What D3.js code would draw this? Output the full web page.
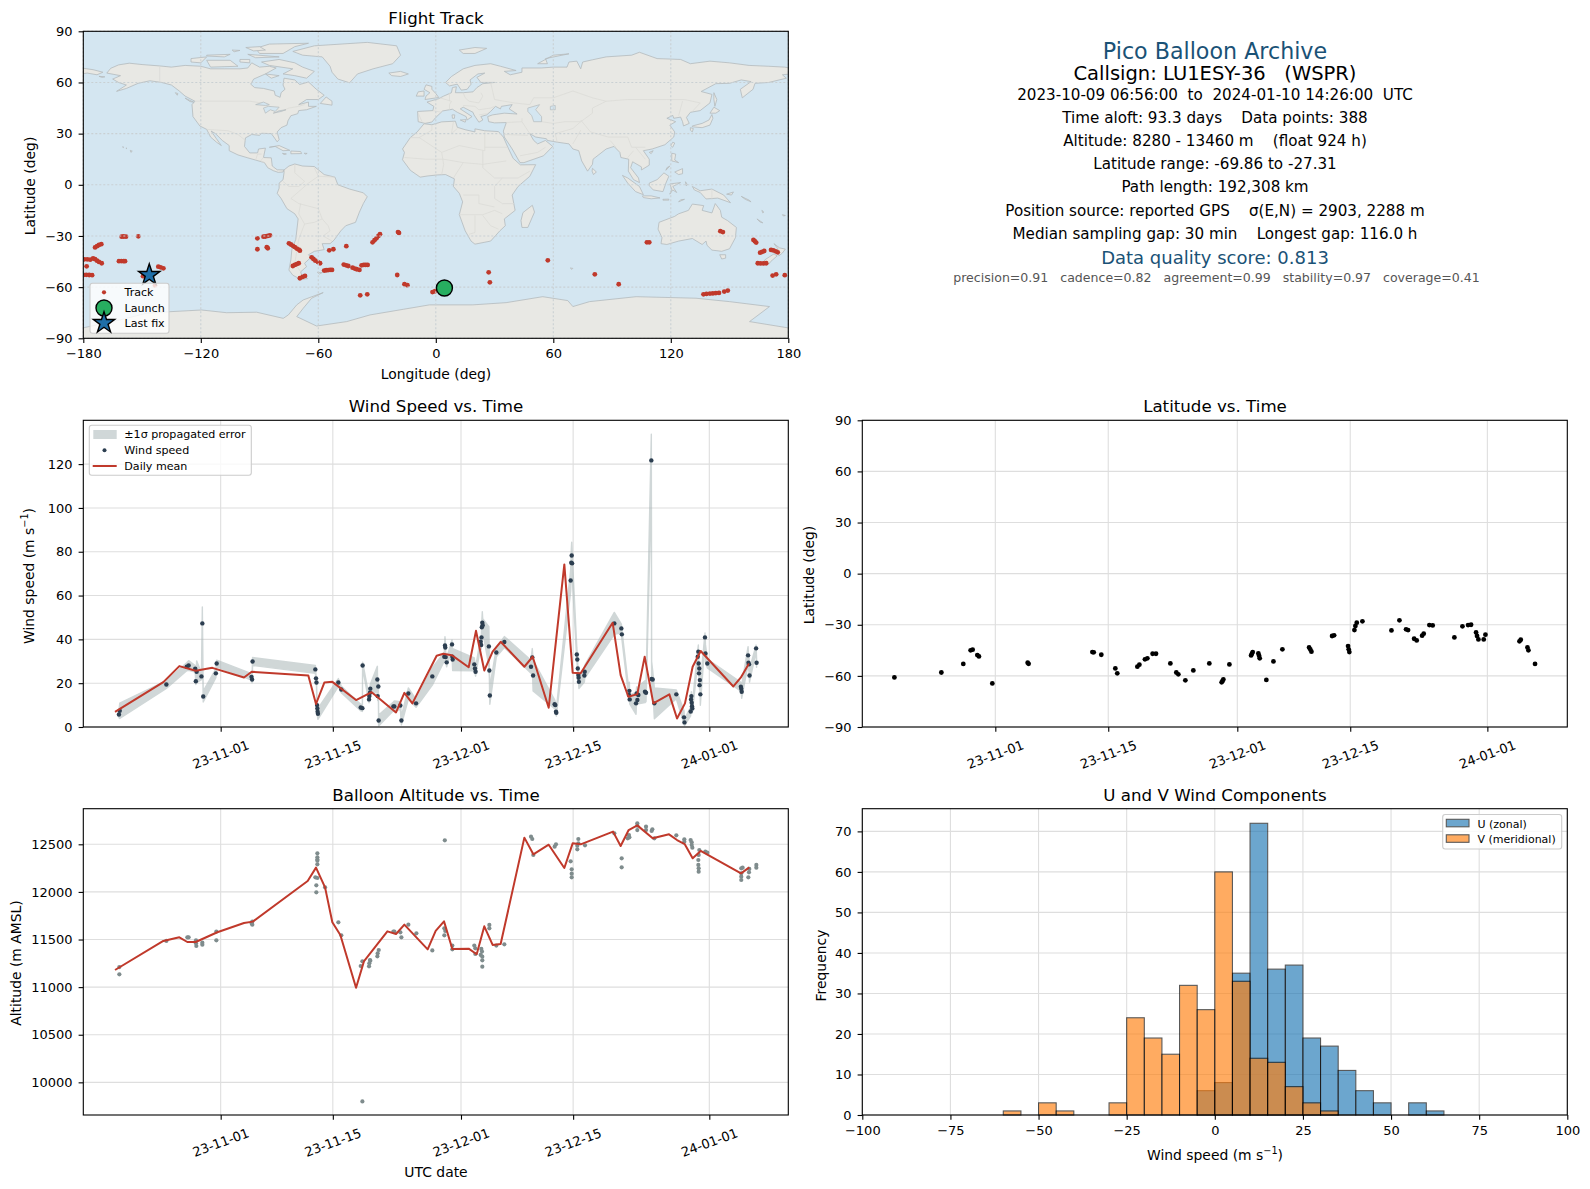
<!DOCTYPE html>
<html>
<head>
<meta charset="utf-8">
<script src="https://cdn.jsdelivr.net/npm/d3@7"></script>
<style>
  body { margin: 0; background: #fff; }
  text { font-family: "DejaVu Sans", sans-serif; fill: #000; white-space: pre; }
</style>
</head>
<body>
<svg id="chart" width="1590" height="1189"></svg>
<script>
// ---- values ----
// days are counted from 2023-11-01 00:00 UTC
var timeTicks = ['2023-11-01', '2023-11-15', '2023-12-01', '2023-12-15', '2024-01-01'];
var lonTicks = [-180, -120, -60, 0, 60, 120, 180];
var latTicks = [-90, -60, -30, 0, 30, 60, 90];
var windTicks = [0, 20, 40, 60, 80, 100, 120];
var altTicks = [10000, 10500, 11000, 11500, 12000, 12500];
var freqTicks = [0, 10, 20, 30, 40, 50, 60, 70];
var histTicks = [-100, -75, -50, -25, 0, 25, 50, 75, 100];

var infoLines = [
  ['2023-10-09 06:56:00  to  2024-01-10 14:26:00  UTC', 95.4],
  ['Time aloft: 93.3 days    Data points: 388', 118.7],
  ['Altitude: 8280 - 13460 m    (float 924 h)', 141.5],
  ['Latitude range: -69.86 to -27.31', 164.5],
  ['Path length: 192,308 km', 187.7],
  ['Position source: reported GPS    σ(E,N) = 2903, 2288 m', 211],
  ['Median sampling gap: 30 min    Longest gap: 116.0 h', 234.4]
];

// lon, lat
var trackPoints = [
  [-179.5,-43.7],[-178,-43.7],[-176.5,-43.9],[-175,-43.2],[-174,-43.6],[-173,-44.5],[-172,-45.2],[-170.6,-46],
  [-178.3,-47.8],[-180,-52.9],[-178.5,-52.8],[-177,-52.9],[-175.5,-53],[-174,-36.7],[-173,-36],[-172,-35.3],[-170.8,-34.8],
  [-160.4,-30.4],[-159.4,-30.3],[-158.2,-30.4],[-151.9,-30.2],[-161.8,-44.8],[-160.6,-44.7],[-159.5,-44.8],[-158.7,-44.8],
  [-149.5,-53.6],[-148,-54.3],[-143.4,-59],[-141.7,-48],[-140.5,-48.4],[-139.1,-49],
  [-91.1,-31.4],[-88,-30.4],[-87,-30.3],[-85.8,-30],[-84.7,-29.6],[-91.1,-37.8],[-86.3,-36.6],[-85.8,-37.2],
  [-75,-34.3],[-74,-35],[-73,-35.8],[-72,-36.5],[-71,-37.4],[-70,-38],[-69.4,-38.6],
  [-73,-47.6],[-72,-47],[-71,-46.5],[-70,-46],[-69.4,-54.8],[-68,-54],[-66.8,-53.4],
  [-63.4,-42.5],[-62.5,-43.5],[-61.5,-44.5],[-60.2,-45.3],[-59.1,-46],[-54.4,-38.4],[-52.3,-37.8],[-45.7,-36],
  [-57,-50.3],[-56,-50.1],[-55,-50],[-54,-49.9],[-53,-49.9],[-47,-46.8],[-45.8,-47.2],[-44.7,-47.6],[-42.5,-48.6],[-41.4,-49.1],[-40.4,-49.5],[-39,-49.9],
  [-37.9,-47.2],[-36.8,-47],[-35.8,-47],[-34.8,-47],[-32.3,-33.7],[-31.3,-32.5],[-30.3,-31.4],[-29.3,-30],[-28.5,-29],
  [-19.3,-27.7],[-18.8,-28.2],[-19.7,-52.9],[-16,-58.3],[-14.5,-58.9],[-38.6,-64.8],[-35,-64.2],
  [-1.7,-62.9],[-0.4,-62.4],[27,-51.3],[27.6,-57.2],[57.2,-44.3],[81.2,-52.5],[93.4,-58.3],[107.8,-33.7],[109,-33.7],
  [136.7,-64.2],[138.2,-64],[140,-63.8],[141.5,-63.7],[143,-63.5],[144.6,-63.4],[147.3,-62.6],[149.1,-62],
  [145.3,-27.2],[146.6,-27.7],[162.2,-32.3],[162.9,-33.1],[163.6,-33.9],[165.6,-39.8],[166.6,-39.3],[167.7,-38.8],
  [171.2,-38.2],[172.4,-38.5],[173.6,-39],[174.6,-39.6],[164.4,-46],[165.8,-46.1],[167.3,-46.1],[168.7,-46],
  [172,-53.2],[173.8,-52.5],[178.2,-53]
];
var launchPoint = [4.4, -60.5];
var lastFixPoint = [-146.3, -52.9];

// hand traced outlines, lon/lat
var landShapes = [
  // north america
  [[-168,65.5],[-166,68.3],[-162,70.3],[-156.5,71.3],[-150,70.5],[-141,69.7],[-135,69],[-128,70],[-120,69.5],[-115,68],[-108,68],[-100,68],[-96,68.5],[-94,71.5],[-90,69],[-85,69.5],[-81.5,68.5],[-87,65],[-93,62],[-94.5,59],[-92.5,57],[-88,56.5],[-82.5,55],[-82,52.5],[-79.5,51.3],[-79,54],[-77,56],[-78,58.5],[-77.5,62.5],[-72,61.5],[-69.5,58.8],[-65,60.3],[-61,56],[-57,52.5],[-60,50],[-66,50],[-70,47],[-65,48.5],[-65,46],[-61,46],[-66,44],[-70,43.5],[-70.5,41.7],[-74,40.5],[-75.5,37.5],[-76,35],[-79,33.5],[-81,31],[-80,26.5],[-81,25.2],[-82.7,28],[-84,30],[-89,30.2],[-90,29],[-94,29.5],[-97.2,27.5],[-97.7,22.5],[-95,18.7],[-91,18.7],[-90.5,21],[-87,21.5],[-88,16],[-84,15.8],[-83.5,11],[-81,8.8],[-77.5,8.7],[-78,7.5],[-80.5,7.3],[-83,8.3],[-85.8,10],[-87.5,13],[-92,14.5],[-96,15.8],[-101,17.5],[-105.5,20],[-105.5,23],[-109,26],[-112.5,30],[-114.7,31.5],[-112,27],[-109.5,23],[-112,25],[-115,28],[-117,32.5],[-120.5,34.5],[-124,40],[-124.5,47],[-123,49],[-128,52],[-131,55],[-135,58.5],[-140,60],[-146,61],[-152,59.5],[-158,56.5],[-163,54.8],[-158,58.5],[-162,60],[-165,62],[-161,64]],
  // south america
  [[-77.5,8.7],[-75,11],[-72,12.2],[-68,11],[-62,10.7],[-57,6],[-51.5,4.5],[-50,0],[-44,-2.5],[-37,-4.7],[-35,-7],[-37,-11],[-39,-16],[-41,-22],[-46,-24],[-48.5,-27],[-52,-32.5],[-54,-34.5],[-58,-34.5],[-57,-38],[-62,-39],[-65,-41],[-63.7,-42.5],[-67,-46],[-66,-48],[-69,-51],[-68.5,-53],[-65.5,-55],[-69,-55.5],[-73,-53],[-75,-50],[-74,-44],[-73.5,-38],[-71.5,-32],[-70.3,-20],[-72,-17],[-76,-14],[-79,-8],[-81,-5],[-80,-2],[-80,1],[-78,3],[-77.5,7]],
  // africa
  [[-6,35.8],[-2,35.2],[3,36.9],[10,37.3],[11,33.7],[15,32.3],[20,31],[20,32.8],[25,31.7],[32,31.2],[34.5,28],[37,21.5],[39.5,15.5],[43.2,11.7],[51,11.8],[48,5],[42,-1],[39,-6],[40.5,-15],[35,-20],[35.5,-24],[32.7,-27],[28,-33],[20,-34.8],[18,-33],[15,-27],[12,-17.5],[13.7,-10],[12,-5],[9,-1],[9.5,3.5],[5,6],[1,5.8],[-4,5.2],[-8,4.5],[-13,8.5],[-17,14.7],[-16,19],[-17,21],[-13,27.7],[-9.5,31]],
  // eurasia
  [[-9,37],[-9.3,43],[-1.5,43.5],[-1,46],[-4.5,48.5],[1.5,50.5],[4,52],[8,54],[8.5,57],[10.5,57.5],[10,54],[14,54],[19,54.5],[21,57],[24,59.3],[30,60],[23,60],[21,63],[25,65.5],[21.5,65],[17.5,61.5],[18,59],[16,56],[13,55.5],[11,59],[7,58],[5,60],[8,63.5],[14,68],[20,70],[28,71],[33,69.5],[41,67],[35,66.5],[38,64.5],[44,66],[44,68.5],[54,68.5],[60,69],[67,69],[68,72],[72,72.5],[74,68],[75,72],[80,73.3],[87,75],[100,76],[104,77.7],[113,74],[125,73.5],[130,71],[140,72.5],[150,71.5],[160,70],[170,69.5],[178,69],[181,68.5],[181,65],[177,64.5],[179,62.5],[170,60],[163,59.5],[162,56],[156.5,51],[155.5,56],[161,60.5],[156,61.5],[150,59.5],[143,59.3],[135.5,54.7],[141,53],[140,48],[135,43.5],[130,42.5],[128,39.5],[129.4,36],[126.5,34.5],[126,37],[125,39.7],[121.5,39],[121,40.7],[118,39],[122.5,37],[119.5,35],[122,31],[121.5,28],[117,23.5],[110.5,21],[106,20],[109,15],[109,11.5],[105,8.7],[105,10.5],[100.5,13.5],[99.5,10],[103.5,4],[104,1.3],[101,3],[98.3,8],[98.5,15],[94.5,16],[94,19],[91,22.5],[87,21],[80.3,15],[80,12],[77.5,8],[74.5,14],[73,20],[70,21],[68,24],[62,25],[57,26],[56.5,27],[51,28],[48,30],[50,26],[52,24],[56,26],[59.7,22.5],[55,17],[45,13],[43,13],[39,21],[35,28],[34.5,31.5],[36,36.5],[30,36.3],[27,37],[26.5,40],[29,41],[35,42],[41.5,41.5],[37.5,44.5],[39,47],[33.5,46],[33,44.5],[30.5,46],[28,43],[26,41],[23,40],[24,38],[22,36.7],[19.5,41],[19,42.5],[14,45.5],[12.5,44.5],[18.5,40],[16,38],[15.5,40],[11,42.5],[8.5,44.3],[3.5,43.3],[0,39.5],[-2,36.8],[-5.5,36]],
  [[-181,68.5],[-175,67.5],[-170,66],[-173,64.5],[-178,65.5],[-181,65]],
  // antarctica
  [[-181,-84.1],[-161.3,-79.2],[-147.7,-75.3],[-135.7,-74.4],[-119.6,-73.4],[-106.8,-75],[-91.5,-74.7],[-77.9,-78.3],[-75.3,-76.3],[-71,-70.4],[-67.7,-67.5],[-57.5,-63.2],[-63.4,-66.5],[-67.7,-72.4],[-71,-77.3],[-60.9,-82.8],[-45.5,-80.2],[-33.6,-76.3],[-16.6,-73],[-3.2,-70.4],[18.9,-70.4],[35.9,-69.1],[54.6,-65.6],[67.4,-67.9],[70,-71.4],[78.5,-68.5],[102.3,-65.6],[132.9,-66.5],[150,-68.5],[170.4,-71.4],[160.2,-80.2],[181,-84.1],[181,-91],[-181,-91]],
  // greenland and arctic islands
  [[-44,59.8],[-50,62],[-53,66],[-54,69.5],[-58,75],[-68,76],[-73,78.2],[-62,81.5],[-35,83.5],[-20,81.5],[-18,76],[-22,71],[-32,68],[-40,65]],
  [[-80,73.5],[-72,71.5],[-68,69],[-62,66.5],[-66,62.5],[-72,64],[-78,65],[-73,68],[-85,70],[-89,72]],
  [[-117,73],[-105,73],[-101,69.5],[-115,69]],
  [[-90,77],[-78,77],[-72,81],[-65,83],[-85,82.5],[-92,80]],
  [[-125,74],[-117,75],[-120,71.5],[-125,72]],
  [[-96,76.5],[-80,75],[-92,74.5]],
  [[-117,76],[-105,76.5],[-108,75],[-117,75.5]],
  [[-100,73.5],[-95,73.5],[-95,71.5],[-100,72]],
  [[-97,80.5],[-90,81],[-87,79],[-93,78.5]],
  [[-104,79],[-100,78.8],[-103,78]],
  [[-87,65],[-80,64],[-84,62.5]],
  [[-59,47.7],[-53,46.7],[-53,49],[-56,51.5]],
  // caribbean
  [[-85,22],[-80,23],[-74.5,20.2],[-78,20],[-82,22.5]],
  [[-74,19.8],[-69,19.5],[-68.5,18.3],[-74,18.2]],
  [[-78.3,18.4],[-76.3,18.1],[-77.5,17.8]],
  [[-67.2,18.5],[-65.7,18.4],[-66.5,18]],
  // europe islands
  [[-24,65.5],[-18,66.5],[-14,65],[-18,63.5],[-22.5,64]],
  [[-5.5,50],[1.5,51.2],[0,53.5],[-2,56],[-2,57.7],[-5,58.6],[-6,56],[-3,54],[-5,52]],
  [[-10,52],[-6,52],[-6,55],[-9,54.5]],
  [[12,79],[20,80.5],[26,80],[20,77],[14,77]],
  [[52,71],[57,71],[56,74],[68,76.8],[60,76]],
  [[8.3,41],[9.7,41],[9.5,39],[8.5,39]],
  [[12.5,38],[15.5,38.2],[15,36.7]],
  // asia islands
  [[142,54],[143.5,50],[142.5,46],[142,50]],
  [[131,34],[136,33.5],[140,35],[141.5,39],[141,41.2],[139.5,38],[136,36],[131,34.5]],
  [[140,42],[142,45.5],[145,43.5],[143,42]],
  [[130,33.5],[131.5,33],[131,31],[130,32]],
  [[121,25],[122,24.5],[121,22],[120,23]],
  [[109,19],[111,20],[110,18.3]],
  [[120.5,18.5],[122.5,18],[122,14.5],[124,13],[120.5,14]],
  [[122,7.5],[126,9.5],[126,6.5],[124,6]],
  [[118,10],[119.5,11],[117.5,8.5]],
  [[109,1],[113,3],[116.5,7],[119,5],[117.5,1],[116,-4],[111,-3],[109,-0.5]],
  [[95.3,5.5],[98,4],[104,-1],[106,-5.8],[102,-4],[98,1]],
  [[105.5,-6.5],[110,-6.5],[114.5,-7.7],[110,-8.2],[106,-7.5]],
  [[119.5,-5.5],[120.5,-2.5],[119.5,0.5],[125,1.3],[121,-1],[123,-4.5],[121,-3]],
  [[127.5,1.8],[128.5,0],[127.8,-0.5]],
  [[124,-10],[127,-8.5],[125,-8.8]],
  [[116,-8.5],[119,-8.4],[119,-9],[116,-9]],
  [[80,9.7],[82,7.5],[80.5,6],[79.8,8]],
  // oceania
  [[131,-1],[135,-3.5],[141,-2.5],[147,-6],[150.5,-10.5],[144,-7.8],[138,-8.3],[135,-4.5],[132,-3]],
  [[148.5,-5.5],[152,-4.2],[151,-6]],
  [[156,-6.8],[160,-9],[161,-10],[158,-8.5]],
  [[166.5,-15],[167.5,-16],[167,-16.5]],
  [[164,-20],[167,-22.3],[165.5,-21.8]],
  [[114,-22],[113.5,-26],[115.5,-31],[115,-34.5],[118,-35],[124,-33],[131,-31.5],[136,-35],[138,-33],[138.5,-35.5],[141,-38.3],[146,-39],[150,-37.5],[153,-31],[153.5,-25],[149,-21],[146,-19],[145.3,-15],[142.7,-11],[141,-16.5],[136,-15],[136.8,-12.2],[131,-11.3],[129,-15],[124,-17],[122,-18.5]],
  [[145,-41],[148,-41],[148,-43],[146,-43.5]],
  [[172.7,-34.5],[175.5,-37],[178.5,-37.7],[177,-40],[175.2,-41.6],[174.8,-39.5],[174.7,-37.5]],
  [[172.7,-40.5],[174.3,-41.7],[171,-45],[170,-46.5],[167,-46.3],[168,-44],[172,-41]],
  [[177,-17.5],[178.5,-18],[177.5,-18.3]],
  // small ones
  [[49.3,-12],[50.4,-16],[47,-25],[44,-25],[43.5,-21],[44.5,-16.3]],
  [[68.7,-48.8],[70,-49],[69.5,-49.6]],
  [[-60.5,-51.3],[-58,-51.5],[-59.5,-52.3]],
  [[-156,20.2],[-155,19.7],[-155.7,19]],
  [[-158.2,21.6],[-157.7,21.4],[-158,21.2]],
  [[-160,22.2],[-159.3,22.1],[-159.6,21.8]],
  [[-133,54],[-131.7,53.5],[-132,52.5]],
  [[-128,50.8],[-123.5,48.4],[-125.5,48.8]],
  [[-172,63.6],[-169,63.3],[-170.5,63]]
];
var waterShapes = [
  [[47,45],[53,47],[51,44],[54,40],[54,37],[50,37],[49,40.5],[47,43]],
  [[58.5,46],[61,46.5],[61,44],[58.5,44]],
  [[-92,47],[-88,48.5],[-85,47],[-87,46.5]],
  [[-88,45],[-85.5,46],[-80,45.5],[-82,43],[-84.5,44],[-87,42]],
  [[-83,42],[-79,43],[-76.5,44],[-79.5,43.5]]
];
var borderLines = [
  [[-141,69.7],[-141,60]],[[-123,49],[-95,49],[-89,48],[-83,45],[-79,43],[-75,45],[-70,46],[-67,47]],
  [[-117,32.5],[-106,31.7],[-101,29.5],[-97.2,26]],[[-92,14.5],[-91,18],[-89,18]],[[-88,16],[-89.5,14],[-87.5,13]],
  [[-51.5,4.5],[-60,5],[-65,1],[-70,-4],[-74,-8],[-70,-11],[-60,-14],[-58,-20],[-55,-24],[-54,-27],[-57.5,-30],[-53,-33]],
  [[-70,-17],[-67,-23],[-70,-32],[-72,-46],[-69,-51]],[[-72,12],[-72,7],[-67,2],[-70,-1],[-75,-1],[-78,2]],[[-62,10],[-60,5]],[[-69,-11],[-70,-17]],[[-58,-20],[-62,-22],[-67,-23]],
  [[-9,42],[-7,37]],[[-1.5,43.5],[3,42.5]],[[2,51],[8,49],[7,47],[7,44]],[[7,54],[7,49]],[[14,54],[15,51],[17,49],[22,48],[24,52],[23,54]],[[14,46.5],[20,46],[22,44],[28,45],[30,46]],[[22,41],[26,41.7]],
  [[28,60],[30,50],[40,48],[48,47],[50,51],[60,51],[70,55],[80,51],[87,49],[98,50],[108,50],[118,50],[127,50],[135,48],[131,43]],
  [[54,37],[60,36],[66,37],[74,37],[80,42],[80,45],[87,49]],[[74,38],[79,31],[88,28],[98,28],[100,22],[107,22]],[[62,25],[61,30],[70,33],[74,37]],[[70,24],[74,32]],
  [[44,39],[44,37],[48,30]],[[36,36.5],[44,37]],[[35,29.5],[47,29]],[[43,17],[52,19],[56,22]],[[89,26],[92,22]],[[98,16],[101,20]],[[102,22],[107,15]],
  [[-8.5,27.7],[-2,32],[-2,35]],[[-13,27.7],[-8.5,27.7],[3,19],[12,23],[25,20],[25,31.7]],[[9,37],[8,30],[11,33]],[[25,22],[37,22]],[[3,19],[4,12],[3,6]],[[-16,16],[-5,15],[4,15],[14,13],[24,12],[36,14]],
  [[14,13],[9,4]],[[24,20],[24,10],[30,4],[34,4],[42,4],[48,8]],[[34,4],[30,-1],[30,-8],[34,-11],[40,-11]],[[14,-6],[22,-6],[22,-11],[30,-13]],[[12,-17.5],[24,-17.5],[30,-15],[34,-17]],[[20,-18],[20,-28],[17,-29]],[[24,-18],[28,-24],[32,-26]],
  [[126,49],[124,40.5]],[[141,-2.5],[141,-9]]
];

// [day, wind speed, propagated sigma], in time order
var windPoints = [
  [-12.7,5.7,1.5],[-12.6,7.4,3.5],[-6.78,19.4,1.8],[-4.24,27.5,1.8],[-4.0,28.1,2.2],[-3.18,26.6,1.5],[-3.1,20.9,1.5],[-3.0,25.2,5],
  [-2.4,23.1,1.5],[-2.29,47.3,7.5],[-2.18,13.9,2.5],[-0.6,24.5,2],[-0.5,29,1.5],[3.85,22.9,1.5],[3.92,21.7,1.5],[3.98,29.9,1.8],
  [11.82,26.3,1.8],[11.9,22.2,1.5],[11.96,20.3,1.5],[12.03,10,2],[12.07,8.5,2],[12.1,7,2.5],[12.14,6,2.5],[14.69,20.3,1.8],[15.06,17.1,1.5],
  [17.48,8.9,1.5],[17.69,8.6,1.5],[17.72,28.1,1.5],[18.52,12.6,1.5],[18.56,14.1,2],[18.64,15.6,2],[18.68,17.5,2],[19.56,21.7,6],[19.6,14.1,2],[19.68,18.5,3],
  [19.72,3,2.5],[21.56,9.4,2],[21.68,9.4,2.5],[22.43,9.8,1.8],[22.56,3,2],[23.43,15.3,2.5],[24.39,10.8,1.8],
  [26.42,23.1,4],[27.92,32.1,2],[28,37.2,4],[28.04,36.3,3],[28.09,31.9,2],[28.21,29.5,2],[28.88,37.7,2],[28.92,32.1,3],[28.96,30.8,5],
  [31.66,28.6,3],[31.75,26.7,2],[31.82,25.2,2],[32.46,38.9,2],[32.52,37.4,2],[32.56,40.9,3],[32.6,45.5,3],[32.66,47.6,5],[32.71,46.5,3],
  [33.48,36.8,9],[33.54,25.8,3],[33.6,14.4,4],[34.41,34,2],[35.41,38.8,2.5],[38.74,27.5,3],[38.9,31.8,4],[39,23.5,7],
  [41.69,10.4,2],[41.78,10,1.5],[41.86,7,1.5],[41.9,6.5,1.5],[43.69,66.9,5],[43.77,75,6],[43.82,78.3,6],[43.87,74.7,5],
  [44.46,33.1,3],[44.52,30.8,3],[44.58,26.7,2],[44.65,23.7,3],[44.68,22.5,2],[44.72,20.6,3],[45.4,23.5,3],[45.44,25.2,3],
  [49.14,47.3,5],[50.02,45,2],[50.08,42.3,2],[50.97,14.6,2],[51.02,16.5,4],[51.06,12.6,2],[51.85,10.8,5],[51.93,15.3,3],[52.02,12.3,2],[52.14,14.6,4],
  [52.97,16.1,5],[53.1,15.6,4],[53.76,121.7,12],[53.8,21.9,8],[53.93,21.7,4],[54.14,10.8,7],[56.88,14.9,2],[57.84,4.4,3],[57.9,2.1,1.5],
  [58.67,7.1,2],[58.72,12.6,2],[58.76,14.1,2],[58.8,11.1,2],[58.84,9.5,2],[58.88,8.5,2],[59.55,32.1,3],[59.63,34.4,3],[59.67,29,3],[59.71,24.5,3],[59.75,26.7,2],[59.78,19.1,2],[59.82,21.4,2],[59.88,14.9,5],
  [60.46,40.9,2],[60.52,33.6,4],[60.75,29,2],[64.94,18.4,2],[64.99,17.5,2],[65.04,16.1,3],[65.84,32.7,4],[65.89,29.3,3],[65.96,28.6,3],[66.02,23.5,3],[66.84,35.9,1.5],[66.9,29.3,2]
];
var windDaily = [
  [-13.19,6.95],[-7.16,20.5],[-5.16,27.8],[-3.12,25.7],[-1.04,27],[2.91,22.6],[3.87,25.2],[10.94,23.5],[11.9,10.5],[12.94,20.3],[13.94,20.6],
  [16.9,12.3],[18.85,15.9],[21.89,6.65],[22.93,15.6],[23.93,10.8],[26.96,32.5],[27.8,33.4],[28.84,32.8],[30.96,27.3],[31.87,43.9],[32.91,25.8],
  [33.95,34.4],[34.95,38.9],[37.91,27.5],[38.95,32.1],[40.95,8.8],[42.9,74.2],[43.94,24.8],[44.94,24.5],[48.93,47.6],[49.93,23.7],[50.89,13.8],
  [52.01,15],[52.93,32.1],[54.01,10.8],[56.01,14.9],[56.97,3.9],[57.96,10.8],[58.92,27.5],[59.92,34.7],[64,18.5],[64.92,22.5],[65.95,29]
];

var latPoints = [
  [-12.51,-60.9],[-6.69,-58],[-3.97,-53],[-3.06,-45],[-2.81,-44.6],[-2.23,-47.8],[-2.03,-48.6],[-0.37,-64.4],[4.01,-52.3],[4.13,-52.9],
  [12.03,-46],[12.2,-46.2],[13.14,-47.6],[14.88,-55.6],[15.12,-58.5],[17.61,-54.6],[17.86,-53.4],[18.55,-50.3],[18.85,-49.7],[19.5,-47],[19.92,-47],
  [21.7,-52.7],[22.44,-58],[22.69,-59.1],[23.56,-62.6],[24.55,-56.8],[26.53,-52.7],[28.06,-63.8],[28.17,-63],[28.27,-62.1],[29.02,-53.3],
  [31.71,-48],[31.81,-47],[31.91,-46],[32.61,-46.8],[32.7,-48.2],[32.78,-49.7],[33.6,-62.4],[34.48,-51.5],[35.59,-44.4],[38.9,-43.3],[39.05,-44.5],[39.19,-45.8],
  [41.75,-36.6],[42,-36.2],[43.73,-42.5],[43.81,-44.4],[43.89,-46],[44.52,-33.1],[44.64,-30.7],[44.81,-28.8],[45.51,-28],[49.11,-33.3],[50.1,-27.4],
  [50.92,-32.7],[51.17,-33.1],[51.92,-38.2],[52.24,-39.2],[52.91,-36.4],[53.11,-35.2],[53.81,-30.2],[54.22,-30.4],[56.91,-37.4],[57.91,-30.9],[58.61,-30.2],[58.98,-30],
  [59.6,-34.5],[59.72,-36.6],[59.89,-38.6],[60.55,-38.6],[60.76,-35.8],[64.98,-39.7],[65.14,-38.8],[65.97,-43.3],[66.09,-45],[66.91,-53]
];

var altPoints = [
  [-12.65,11211],[-12.65,11134],[-6.78,11485],[-4.16,11523],[-4,11523],[-3.08,11492],[-3.08,11460],[-3.04,11432],[-2.29,11467],[-2.29,11446],[-0.54,11583],[-0.54,11492],
  [3.95,11688],[3.87,11667],[3.95,11656],[12.07,12405],[12.07,12363],[12.07,12340],[12.07,12328],[12.07,12290],[11.82,12153],[12.07,12146],[11.94,12069],[11.94,11996],[13.03,12048],
  [14.69,11681],[15.06,11544],[17.48,11222],[17.69,11271],[17.69,9800],[18.52,11218],[18.56,11250],[18.64,11285],[18.68,11278],[19.56,11324],[19.6,11355],[19.73,11390],
  [21.56,11583],[21.68,11583],[22.43,11576],[22.56,11523],[23.43,11656],[24.43,11565],[26.42,11386],[27.98,12542],[27.92,11618],[28.04,11590],[27.92,11544],[28.92,11436],[28.92,11397],
  [31.66,11436],[31.79,11408],[31.79,11348],[32.54,11401],[32.62,11373],[32.46,11338],[32.66,11320],[32.66,11281],[32.66,11215],[33.54,11653],[33.54,11618],[34.41,11436],[35.41,11450],
  [38.74,12580],[38.9,12556],[39.03,12388],[41.69,12475],[41.86,12500],[43.69,12321],[43.82,12237],[43.82,12192],[43.82,12153],[44.65,12556],[44.65,12510],[44.52,12486],[44.52,12447],[45.48,12489],
  [49.14,12615],[50.06,12353],[50.06,12258],[50.97,12598],[51.02,12573],[50.81,12563],[52.01,12720],[52.01,12696],[52.01,12650],[53.1,12685],[53.1,12650],[53.89,12657],[53.8,12640],[54.14,12563],
  [56.88,12594],[57.88,12552],[57.88,12528],[58.67,12545],[58.8,12521],[58.8,12493],[58.88,12465],[59.75,12440],[59.67,12388],[59.63,12335],[59.63,12283],[59.67,12248],[59.67,12213],
  [60.5,12423],[60.75,12412],[64.99,12248],[65.16,12255],[64.99,12195],[64.99,12160],[64.99,12125],[65.87,12153],[65.95,12206],[65.99,12241],[66.87,12283],[66.87,12255]
];
var altDaily = [
  [-13.19,11180],[-7.16,11485],[-5.16,11523],[-4.16,11474],[-3.12,11474],[-0.42,11576],[2.91,11674],[4,11688],[10.86,12115],[11.9,12255],[13.03,12048],[13.94,11681],[14.94,11548],
  [16.9,10994],[17.9,11274],[20.81,11586],[21.89,11558],[22.93,11656],[25.84,11397],[26.84,11590],[27.88,11691],[28.92,11401],[30.96,11404],[31.96,11345],[32.91,11639],[33.95,11443],[34.95,11453],
  [37.91,12570],[39.03,12395],[40.95,12496],[42.9,12251],[43.94,12510],[44.94,12500],[48.98,12633],[49.93,12482],[50.93,12650],[52.01,12699],[53.93,12563],[55.97,12605],[56.97,12545],[57.92,12503],
  [58.92,12353],[59.92,12430],[64.96,12195],[65.99,12258]
];

// histogram bins, [left edge, count], bins are 5 wide
var uBins = [[-5,6],[0,8],[5,35],[10,72],[15,36],[20,37],[25,19],[30,17],[35,11],[40,6],[45,3],[55,3],[60,1]];
var vBins = [[-60,1],[-50,3],[-45,1],[-30,3],[-25,24],[-20,19],[-15,15],[-10,32],[-5,26],[0,60],[5,33],[10,14],[15,13],[20,7],[25,3],[30,1]];
var binWidth = 5;

// ---- drawing ----
var RED = '#c0392b', NAVY = '#2c3e50', SLATE = '#7f8c8d', TITLE_BLUE = '#1a5276';
var tickLen = 4.7, lw = 1.1, tickFont = '13px';
var svg = d3.select('#chart');

function when(d) { return new Date(Date.UTC(2023, 10, 1) + d * 864e5); }

function addPanel(box) {
  var g = svg.append('g');
  g.box = box;
  return g;
}

function frame(g) {
  var b = g.box;
  g.append('rect').attr('x', b.x0).attr('y', b.y0).attr('width', b.x1 - b.x0).attr('height', b.y1 - b.y0)
    .attr('fill', 'none').attr('stroke', '#000').attr('stroke-width', lw);
}

function grid(g, x, y, xt, yt, dash, col) {
  var b = g.box;
  var gg = g.append('g').attr('stroke', col || '#dedede').attr('stroke-width', 1.1).attr('stroke-dasharray', dash || null);
  gg.selectAll('.v').data(xt).enter().append('line').attr('x1', d => x(d)).attr('x2', d => x(d)).attr('y1', b.y0).attr('y2', b.y1);
  gg.selectAll('.h').data(yt).enter().append('line').attr('y1', d => y(d)).attr('y2', d => y(d)).attr('x1', b.x0).attr('x2', b.x1);
}

function axes(g, x, y, xt, yt, xfmt, rotate) {
  var b = g.box;
  var ax = g.append('g').attr('transform', `translate(0,${b.y1})`)
    .call(d3.axisBottom(x).tickValues(xt).tickSize(tickLen).tickPadding(5.6).tickFormat(xfmt));
  var ay = g.append('g').attr('transform', `translate(${b.x0},0)`)
    .call(d3.axisLeft(y).tickValues(yt).tickSize(tickLen).tickPadding(6).tickFormat(d3.format('d')));
  [ax, ay].forEach(a => {
    a.select('.domain').remove();
    a.selectAll('line').attr('stroke', '#000').attr('stroke-width', lw);
    a.selectAll('text').style('font-size', tickFont).style('font-family', '"DejaVu Sans"').attr('fill', '#000');
  });
  if (rotate) {
    ax.selectAll('text').attr('text-anchor', 'middle').attr('dy', null).attr('y', 0)
      .attr('transform', 'translate(0,28.5) rotate(-20)').attr('dominant-baseline', 'middle');
  }
  return ax;
}

function label(x, y, txt, size, opts) {
  opts = opts || {};
  var t = svg.append('text').attr('x', x).attr('y', y).attr('text-anchor', opts.anchor || 'middle')
    .attr('dominant-baseline', opts.base || 'middle').style('font-size', size + 'px').style('fill', opts.color || '#000');
  if (opts.rot) t.attr('transform', `rotate(${opts.rot},${x},${y})`);
  t.text(txt);
  return t;
}

// axis label with a superscript -1, as mathtext would set it
function windLabel(x, y, rot) {
  var t = svg.append('text').attr('x', x).attr('y', y).attr('text-anchor', 'middle').attr('dominant-baseline', 'middle').style('font-size', '13.9px');
  if (rot) t.attr('transform', `rotate(${rot},${x},${y})`);
  t.append('tspan').text('Wind speed (m s');
  t.append('tspan').attr('dy', -5).style('font-size', '9.7px').text('−1');
  t.append('tspan').attr('dy', 5).text(')');
}

function legendBox(x, y, w, h) {
  svg.append('rect').attr('x', x).attr('y', y).attr('width', w).attr('height', h).attr('rx', 2.5)
    .attr('fill', '#fff').attr('fill-opacity', 0.8).attr('stroke', '#ccc').attr('stroke-width', 1.1);
}

var COL_L = { x0: 83.3, x1: 788.3 }, COL_R = { x0: 862.3, x1: 1567.3 };
var tickDates = timeTicks.map(s => new Date(s + 'T00:00:00Z'));
var dateFmt = d3.utcFormat('%y-%m-%d');

// ---- map ----
var mapBox = { x0: COL_L.x0, x1: COL_L.x1, y0: 31.3, y1: 338.3 };
var mapPanel = addPanel(mapBox);
var lonScale = d3.scaleLinear().domain([-180, 180]).range([mapBox.x0, mapBox.x1]);
var latScale = d3.scaleLinear().domain([-90, 90]).range([mapBox.y1, mapBox.y0]);
var geoLine = d3.line().x(d => lonScale(d[0])).y(d => latScale(d[1]));

svg.append('clipPath').attr('id', 'mapClip').append('rect')
  .attr('x', mapBox.x0).attr('y', mapBox.y0).attr('width', mapBox.x1 - mapBox.x0).attr('height', mapBox.y1 - mapBox.y0);
var mapInner = mapPanel.append('g').attr('clip-path', 'url(#mapClip)');
mapInner.append('rect').attr('x', mapBox.x0).attr('y', mapBox.y0).attr('width', mapBox.x1 - mapBox.x0).attr('height', mapBox.y1 - mapBox.y0).attr('fill', '#d4e6f1');
mapInner.selectAll('.land').data(landShapes).enter().append('path')
  .attr('d', d => geoLine(d) + 'Z').attr('fill', '#e8e8e4').attr('stroke', '#b4babc').attr('stroke-width', 0.8).attr('stroke-linejoin', 'round');
mapInner.selectAll('.border').data(borderLines).enter().append('path')
  .attr('d', geoLine).attr('fill', 'none').attr('stroke', '#dadad6').attr('stroke-width', 0.7);
mapInner.selectAll('.water').data(waterShapes).enter().append('path')
  .attr('d', d => geoLine(d) + 'Z').attr('fill', '#d4e6f1').attr('stroke', '#b4babc').attr('stroke-width', 0.7);
var mapGrid = mapPanel.append('g');
mapGrid.box = mapBox;
grid(mapGrid, lonScale, latScale, lonTicks, latTicks, '2 2', '#c9d0d3');
mapInner.append('g').selectAll('circle').data(trackPoints).enter().append('circle')
  .attr('cx', d => lonScale(d[0])).attr('cy', d => latScale(d[1])).attr('r', 2.4).attr('fill', RED);
mapPanel.append('circle').attr('cx', lonScale(launchPoint[0])).attr('cy', latScale(launchPoint[1])).attr('r', 8)
  .attr('fill', '#27ae60').attr('stroke', '#000').attr('stroke-width', 1.4);
var starPath = d3.symbol().type(d3.symbolStar).size(140)();
mapPanel.append('path').attr('d', starPath).attr('transform', `translate(${lonScale(lastFixPoint[0])},${latScale(lastFixPoint[1])})`)
  .attr('fill', '#1f6fa8').attr('stroke', '#000').attr('stroke-width', 1.4);
frame(mapPanel);
axes(mapPanel, lonScale, latScale, lonTicks, latTicks, d3.format('d'));

legendBox(90, 283.3, 79, 50);
svg.append('circle').attr('cx', 104).attr('cy', 292.3).attr('r', 2.1).attr('fill', RED);
svg.append('circle').attr('cx', 104).attr('cy', 308).attr('r', 8).attr('fill', '#27ae60').attr('stroke', '#000').attr('stroke-width', 1.4);
svg.append('path').attr('d', starPath).attr('transform', 'translate(104,323)').attr('fill', '#1f6fa8').attr('stroke', '#000').attr('stroke-width', 1.4);
label(124.5, 293, 'Track', 11.1, { anchor: 'start' });
label(124.5, 309, 'Launch', 11.1, { anchor: 'start' });
label(124.5, 323.5, 'Last fix', 11.1, { anchor: 'start' });

label(436, 24, 'Flight Track', 16.67, { base: 'auto' });
label(436, 374.5, 'Longitude (deg)', 13.9);
label(30.5, 186, 'Latitude (deg)', 13.9, { rot: -90 });

// ---- text block ----
var cx = 1215;
label(cx, 52.6, 'Pico Balloon Archive', 22.2, { color: TITLE_BLUE });
label(cx, 74.2, 'Callsign: LU1ESY-36   (WSPR)', 19.5);
infoLines.forEach(l => label(cx, l[1], l[0], 15.15));
label(cx, 258.7, 'Data quality score: 0.813', 18, { color: TITLE_BLUE });
label(cx + 1.5, 278.6, 'precision=0.91   cadence=0.82   agreement=0.99   stability=0.97   coverage=0.41', 12.55, { color: '#555' });

// ---- wind ----
var windBox = { x0: COL_L.x0, x1: COL_L.x1, y0: 420.3, y1: 727 };
var windPanel = addPanel(windBox);
var xLeft = d3.scaleUtc().domain([when(-17.15), when(70.86)]).range([COL_L.x0, COL_L.x1]);
var xRight = d3.scaleUtc().domain([when(-16.49), when(70.91)]).range([COL_R.x0, COL_R.x1]);
var windY = d3.scaleLinear().domain([0, 140]).range([windBox.y1, windBox.y0]);
grid(windPanel, xLeft, windY, tickDates, windTicks);
svg.append('clipPath').attr('id', 'windClip').append('rect')
  .attr('x', windBox.x0).attr('y', windBox.y0).attr('width', windBox.x1 - windBox.x0).attr('height', windBox.y1 - windBox.y0);
var band = d3.area().x(d => xLeft(when(d[0]))).y0(d => windY(d[1] - d[2])).y1(d => windY(d[1] + d[2]));
windPanel.append('path').datum(windPoints).attr('d', band).attr('clip-path', 'url(#windClip)')
  .attr('fill', '#aab7b8').attr('stroke', '#aab7b8').attr('stroke-width', 1.4).attr('stroke-linejoin', 'round').attr('opacity', 0.55);
windPanel.append('g').selectAll('circle').data(windPoints).enter().append('circle')
  .attr('cx', d => xLeft(when(d[0]))).attr('cy', d => windY(d[1])).attr('r', 2.2).attr('fill', NAVY);
windPanel.append('path').datum(windDaily).attr('fill', 'none').attr('stroke', RED).attr('stroke-width', 2).attr('stroke-linejoin', 'round')
  .attr('d', d3.line().x(d => xLeft(when(d[0]))).y(d => windY(d[1])));
frame(windPanel);
axes(windPanel, xLeft, windY, tickDates, windTicks, dateFmt, true);

legendBox(89.3, 425.3, 162, 50);
svg.append('rect').attr('x', 93.3).attr('y', 430).attr('width', 23.4).attr('height', 9).attr('fill', '#aab7b8').attr('fill-opacity', 0.55);
svg.append('circle').attr('cx', 104.5).attr('cy', 450.3).attr('r', 2).attr('fill', NAVY);
svg.append('line').attr('x1', 92.7).attr('x2', 116.7).attr('y1', 466).attr('y2', 466).attr('stroke', RED).attr('stroke-width', 2);
label(124.3, 435.3, '±1σ propagated error', 11.1, { anchor: 'start' });
label(124.3, 450.5, 'Wind speed', 11.1, { anchor: 'start' });
label(124.3, 466.5, 'Daily mean', 11.1, { anchor: 'start' });

label(436, 412, 'Wind Speed vs. Time', 16.67, { base: 'auto' });
windLabel(29.5, 576, -90);

// ---- latitude ----
var latBox = { x0: COL_R.x0, x1: COL_R.x1, y0: 420.3, y1: 727 };
var latPanel = addPanel(latBox);
var latY = d3.scaleLinear().domain([-90, 90]).range([latBox.y1, latBox.y0]);
grid(latPanel, xRight, latY, tickDates, latTicks);
latPanel.append('g').selectAll('circle').data(latPoints).enter().append('circle')
  .attr('cx', d => xRight(when(d[0]))).attr('cy', d => latY(d[1])).attr('r', 2.4).attr('fill', '#000');
frame(latPanel);
axes(latPanel, xRight, latY, tickDates, latTicks, dateFmt, true);
label(1215, 412, 'Latitude vs. Time', 16.67, { base: 'auto' });
label(810, 575, 'Latitude (deg)', 13.9, { rot: -90 });

// ---- altitude ----
var altBox = { x0: COL_L.x0, x1: COL_L.x1, y0: 808.7, y1: 1115 };
var altPanel = addPanel(altBox);
var altY = d3.scaleLinear().domain([9657, 12874]).range([altBox.y1, altBox.y0]);
grid(altPanel, xLeft, altY, tickDates, altTicks);
altPanel.append('g').selectAll('circle').data(altPoints).enter().append('circle')
  .attr('cx', d => xLeft(when(d[0]))).attr('cy', d => altY(d[1])).attr('r', 2.1).attr('fill', SLATE);
altPanel.append('path').datum(altDaily).attr('fill', 'none').attr('stroke', RED).attr('stroke-width', 2).attr('stroke-linejoin', 'round')
  .attr('d', d3.line().x(d => xLeft(when(d[0]))).y(d => altY(d[1])));
frame(altPanel);
axes(altPanel, xLeft, altY, tickDates, altTicks, dateFmt, true);
label(436, 801, 'Balloon Altitude vs. Time', 16.67, { base: 'auto' });
label(16.5, 963, 'Altitude (m AMSL)', 13.9, { rot: -90 });
label(436, 1173, 'UTC date', 13.9);

// ---- histogram ----
var histBox = { x0: COL_R.x0, x1: COL_R.x1, y0: 808.7, y1: 1115 };
var histPanel = addPanel(histBox);
var histX = d3.scaleLinear().domain([-100, 100]).range([histBox.x0, histBox.x1]);
var histY = d3.scaleLinear().domain([0, 75.6]).range([histBox.y1, histBox.y0]);
grid(histPanel, histX, histY, histTicks, freqTicks);
function drawBins(bins, col) {
  histPanel.append('g').selectAll('rect').data(bins).enter().append('rect')
    .attr('x', d => histX(d[0])).attr('width', d => histX(d[0] + binWidth) - histX(d[0]))
    .attr('y', d => histY(d[1])).attr('height', d => histY(0) - histY(d[1]))
    .attr('fill', col).attr('stroke', '#000').attr('stroke-width', 1.1).attr('opacity', 0.65);
}
drawBins(uBins, '#1f77b4');
drawBins(vBins, '#ff7f0e');
frame(histPanel);
axes(histPanel, histX, histY, histTicks, freqTicks, d3.format('d'));

legendBox(1442.7, 814.5, 119, 34.5);
svg.append('rect').attr('x', 1446.3).attr('y', 819.3).attr('width', 22.7).attr('height', 7.5).attr('fill', '#1f77b4').attr('stroke', '#000').attr('stroke-width', 1.1).attr('opacity', 0.65);
svg.append('rect').attr('x', 1446.3).attr('y', 834.8).attr('width', 22.7).attr('height', 7.5).attr('fill', '#ff7f0e').attr('stroke', '#000').attr('stroke-width', 1.1).attr('opacity', 0.65);
label(1477.5, 824.5, 'U (zonal)', 11, { anchor: 'start' });
label(1477.5, 839.5, 'V (meridional)', 11, { anchor: 'start' });

label(1215, 801, 'U and V Wind Components', 16.67, { base: 'auto' });
label(822, 965.5, 'Frequency', 13.9, { rot: -90 });
windLabel(1215, 1156);
</script>
</body>
</html>
